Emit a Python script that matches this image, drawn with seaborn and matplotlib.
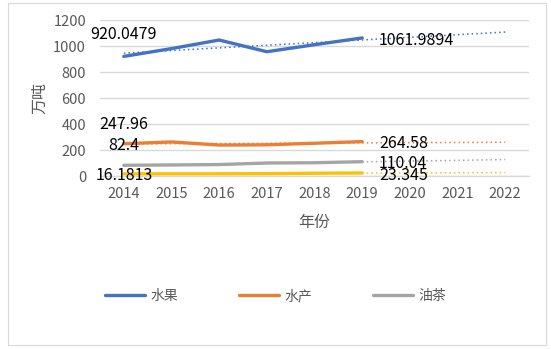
import numpy as np
import pandas as pd
import matplotlib
matplotlib.use("Agg")
import matplotlib.pyplot as plt
import seaborn as sns
from matplotlib.patches import Rectangle

years = [2014, 2015, 2016, 2017, 2018, 2019]
axis_years = [2014, 2015, 2016, 2017, 2018, 2019, 2020, 2021, 2022]
fruit = [920.0479, 980, 1046, 956, 1010, 1061.9894]
aquatic = [247.96, 262, 238, 240, 252, 264.58]
tea_oil = [82.4, 85, 88, 100, 102, 110.04]
other = [16.1813, 17, 17, 18, 21, 23.345]

series_names = ["水果", "水产", "油茶", "其他"]
series_values = [fruit, aquatic, tea_oil, other]
colors = ["#4472C4", "#ED7D31", "#A5A5A5", "#FFC000"]
first_labels = ["920.0479", "247.96", "82.4", "16.1813"]
last_labels = ["1061.9894", "264.58", "110.04", "23.345"]

sns.set_theme(style="white")
plt.rcParams['font.family'] = ['Noto Sans CJK SC', 'DejaVu Sans']

fig = plt.figure(figsize=(5.51, 3.49), dpi=100)
ax = fig.add_axes([100/551, 1-176/349, 429/551, 156/349])

rows = []
for name, vals in zip(series_names, series_values):
    for y, v in zip(years, vals):
        rows.append({"年份": y, "值": v, "系列": name})
df = pd.DataFrame(rows)

sns.lineplot(data=df, x="年份", y="值", hue="系列", palette=colors,
             linewidth=2.4, ax=ax, legend=False)

# linear trend lines extended to 2022
ext = np.array(axis_years, dtype=float)
for vals, c in zip(series_values, colors):
    k, b = np.polyfit(np.array(years, dtype=float), np.array(vals), 1)
    ax.plot(ext, k*ext + b, linestyle=(0, (1, 2)), color=c, linewidth=1.1, zorder=1)

# data labels
offsets_first = [(0, 16), (0, 14), (0, 14), (0, -1)]
for vals, lab, off in zip(series_values, first_labels, offsets_first):
    ax.annotate(lab, (years[0], vals[0]), xytext=off, textcoords="offset points",
                ha="center", va="center", fontsize=11.5, color="black")
offsets_last = [(12, -1.5), (12, -1.5), (12, -1), (12, -1.5)]
for vals, lab, off in zip(series_values, last_labels, offsets_last):
    ax.annotate(lab, (years[-1], vals[-1]), xytext=off, textcoords="offset points",
                ha="left", va="center", fontsize=11.5, color="black")

ax.set_xlim(2013.5, 2022.5)
ax.set_ylim(0, 1200)
ax.set_xticks(axis_years)
ax.set_xticklabels([str(y) for y in axis_years])
ax.set_yticks(range(0, 1201, 200))
ax.grid(axis="y", color="#D9D9D9", linewidth=1)
ax.grid(axis="x", visible=False)
for s in ["top", "right", "left"]:
    ax.spines[s].set_visible(False)
ax.spines["bottom"].set_color("#D9D9D9")
ax.spines["bottom"].set_linewidth(1)
ax.tick_params(axis="both", length=0, labelsize=10.5, colors="#595959")
ax.tick_params(axis="y", pad=10)
ax.tick_params(axis="x", pad=8)

ax.set_xlabel("年份", fontsize=11.5, color="#595959")
ax.set_ylabel("万吨", fontsize=11.5, color="#595959")
ax.xaxis.set_label_coords(0.5, -0.295)
ax.xaxis.label.set_va("center")
ax.yaxis.set_label_coords(-0.14, 0.5)
ax.yaxis.label.set_va("center")

from matplotlib.lines import Line2D
handles = [Line2D([0], [0], color=c, linewidth=2.4) for c in colors[:3]]
fig.legend(handles, series_names[:3], loc="center", bbox_to_anchor=(0.5, 1-296/349),
           ncol=3, frameon=False, fontsize=10, handlelength=2.9, handletextpad=0.35,
           columnspacing=4.4, labelcolor="#595959")

fig.patches.append(Rectangle((8/551, 1-345/349), 538/551, 342/349, transform=fig.transFigure,
                             fill=False, edgecolor="#D9D9D9", linewidth=0.8))

fig.savefig("out.png", dpi=100)
